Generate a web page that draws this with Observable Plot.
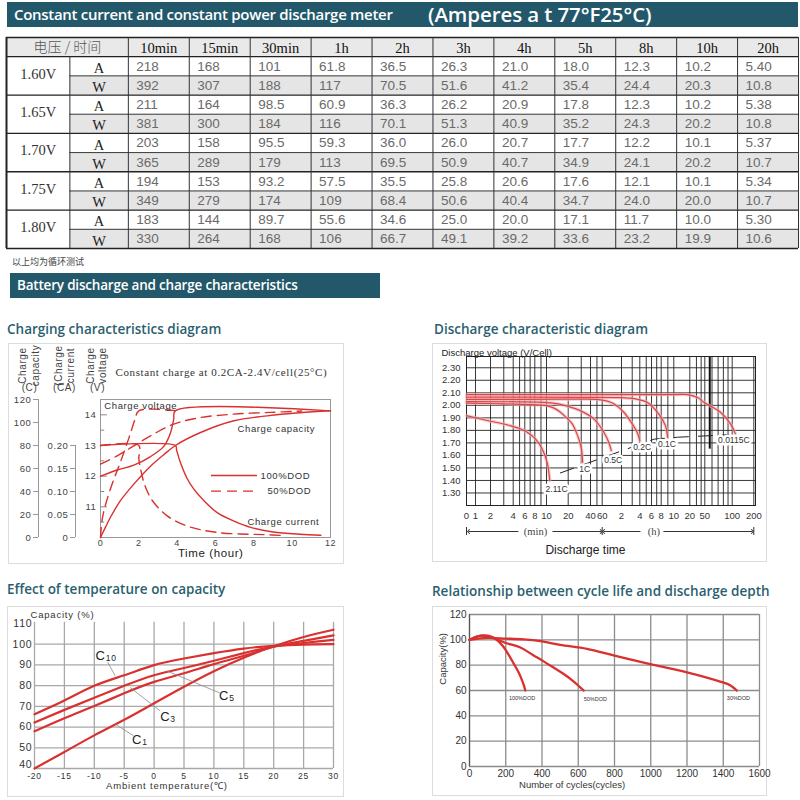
<!DOCTYPE html>
<html><head><meta charset="utf-8">
<script src="https://cdn.jsdelivr.net/npm/d3@7"></script>
<script src="https://cdn.jsdelivr.net/npm/@observablehq/plot@0.6"></script>
<style>
body{margin:0;background:#fff;}
#page{position:relative;width:800px;height:800px;overflow:hidden;font-family:"Liberation Sans",Arial,sans-serif;background:#fff;}
.bar{position:absolute;background:#23586b;color:#fff;font-family:"Open Sans",sans-serif;font-weight:600;white-space:nowrap;box-sizing:border-box;}
.h2{position:absolute;color:#2b5f70;font-family:"Open Sans",sans-serif;font-weight:600;font-size:13.5px;white-space:nowrap;line-height:1;}
.box{position:absolute;border:1px solid #dcdcdc;box-sizing:border-box;}
.chart{position:absolute;}
.chart svg{overflow:visible;}
</style></head>
<body><div id="page">
<div class="bar" style="left:7px;top:2px;width:791px;height:25px;">
  <span style="position:absolute;left:7px;top:2px;font-size:15px;letter-spacing:-0.3px;">Constant current and constant power discharge meter</span>
  <span style="position:absolute;left:421px;top:-2px;font-size:20.5px;letter-spacing:-0.1px;">(Amperes a t 77°F25°C)</span>
</div>
<div class="chart" id="table" style="left:0;top:0;"></div>
<div style="position:absolute;left:12px;top:255px;font-size:9px;color:#444;font-family:'Noto Sans CJK SC',sans-serif;">以上均为循环测试</div>
<div class="bar" style="left:10px;top:273px;width:370px;height:25px;">
  <span style="position:absolute;left:7px;top:3px;font-size:13.5px;letter-spacing:-0.2px;">Battery discharge and charge characteristics</span>
</div>
<div class="h2" style="left:7px;top:323px;">Charging characteristics diagram</div>
<div class="h2" style="left:434px;top:323px;">Discharge characteristic diagram</div>
<div class="h2" style="left:7px;top:583px;">Effect of temperature on capacity</div>
<div class="h2" style="left:432px;top:585px;">Relationship between cycle life and discharge depth</div>
<div class="box" style="left:8px;top:343px;width:336px;height:221px;"></div>
<div class="box" style="left:432px;top:343px;width:335px;height:219px;"></div>
<div class="box" style="left:7px;top:606px;width:337px;height:191px;"></div>
<div class="box" style="left:432px;top:606px;width:335px;height:190px;"></div>
<div class="chart" id="c1" style="left:8px;top:344px;"></div>
<div class="chart" id="c2" style="left:432px;top:343px;"></div>
<div class="chart" id="c3" style="left:7px;top:606px;"></div>
<div class="chart" id="c4" style="left:432px;top:606px;"></div>
</div>
<script>
// ---------------- DATA ----------------
const times = ["10min","15min","30min","1h","2h","3h","4h","5h","8h","10h","20h"];
const voltages = ["1.60V","1.65V","1.70V","1.75V","1.80V"];
const amps = [
  [218,168,101,61.8,36.5,26.3,21.0,18.0,12.3,10.2,5.40],
  [211,164,98.5,60.9,36.3,26.2,20.9,17.8,12.3,10.2,5.38],
  [203,158,95.5,59.3,36.0,26.0,20.7,17.7,12.2,10.1,5.37],
  [194,153,93.2,57.5,35.5,25.8,20.6,17.6,12.1,10.1,5.34],
  [183,144,89.7,55.6,34.6,25.0,20.0,17.1,11.7,10.0,5.30]];
const watts = [
  [392,307,188,117,70.5,51.6,41.2,35.4,24.4,20.3,10.8],
  [381,300,184,116,70.1,51.3,40.9,35.2,24.3,20.2,10.8],
  [365,289,179,113,69.5,50.9,40.7,34.9,24.1,20.2,10.7],
  [349,279,174,109,68.4,50.6,40.4,34.7,24.0,20.0,10.7],
  [330,264,168,106,66.7,49.1,39.2,33.6,23.2,19.9,10.6]];
const units = ["A","W"];

// Charging characteristics (hours, value)
const hourTicks1 = [0,2,4,6,8,10,12];
const capTicks1 = [0,20,40,60,80,100,120];
const curTicks1 = [0,0.05,0.10,0.15,0.20];
const voltTicks1 = [11,12,13,14];
const voltMinor1 = [10.5,11.5,12.5,13.5];
const voltage100 = [[0,12.0],[0.87,12.2],[1.74,12.36],[2.61,12.64],[3.3,12.97],[3.65,13.41],[3.82,13.86],[3.9,14.13],[12,14.13]];
const voltage50 = [[0,10.0],[0.09,10.6],[0.26,11.06],[0.61,11.75],[1.04,12.46],[1.48,13.24],[1.8,13.85],[2.0,14.13],[4,14.13]];
const capacity100 = [[0,0],[0.26,9],[0.52,17.6],[1.04,32],[1.74,46.4],[2.61,62],[3.3,72],[3.91,80],[5.22,91.3],[6.96,101.5],[8.7,105.8],[10.4,108.5],[12,110.2]];
const capacity50 = [[0,63.8],[0.87,71],[1.74,79.7],[2.61,88.4],[3.82,98.6],[5.22,104.3],[6.96,107.3],[8.87,108.8],[10.5,110]];
const current100 = [[0,0.2],[3.91,0.2],[3.97,0.19],[4.17,0.163],[4.5,0.13],[4.87,0.105],[5.4,0.08],[6.09,0.054],[7,0.035],[7.83,0.022],[9,0.012],[10.4,0.007],[11.5,0.005]];
const current50 = [[0,0.2],[2,0.2],[2,0.172],[2.09,0.149],[2.26,0.12],[2.5,0.095],[2.78,0.076],[3.48,0.047],[4.52,0.025],[6.09,0.011],[8.7,0.006],[9.6,0.004]];

// Discharge characteristics (minutes, V/cell)
const dischargeRates = ["2.11C","1C","0.5C","0.2C","0.1C","0.0115C"];
const dischargeCurves = [
  [[0.75,1.918],[1.72,1.879],[3.33,1.844],[5,1.815],[6.43,1.785],[8.1,1.732],[9.21,1.652],[10.2,1.545],[11.1,1.40]],
  [[0.75,2.017],[3,2.012],[7,2.005],[10,1.998],[12.5,1.98],[15.6,1.945],[19,1.9],[22.7,1.852],[25.5,1.79],[27.8,1.732],[30.2,1.652],[31.3,1.545]],
  [[0.75,2.03],[10,2.022],[15,2.01],[19,1.995],[29,1.958],[45,1.892],[63.5,1.785],[76,1.705],[83,1.638]],
  [[0.75,2.047],[20,2.049],[50,2.048],[70,2.035],[91,2.012],[131,1.945],[180,1.852],[217,1.785],[240,1.718]],
  [[0.75,2.065],[100,2.062],[168,2.057],[230,2.045],[309,2.025],[445,1.932],[517,1.838],[537,1.745]],
  [[0.75,2.086],[600,2.086],[1072,2.086],[2000,2.06],[2822,2.025],[4463,1.945],[5749,1.852],[6658,1.772]]];
const rateLabelPos = [[13.8,1.326],[33.5,1.486],[89,1.564],[260,1.665],[532,1.686],[6314,1.718]];
const cutoffLine = [[15.6,1.46],[390,1.73],[700,1.745],[5500,1.765]];
const voltTicks2 = [1.3,1.4,1.5,1.6,1.7,1.8,1.9,2.0,2.1,2.2,2.3];
const minTickVals = [0.75,1,2,4,6,8,10,20,40,60];
const minTickText = ["0","1","2","4","6","8","10","20","40","60"];
const hourTickVals = [2,4,6,8,10,20,50,100,200];
const gridMinutes = [1,2,3,4,5,6,7,8,9,10,20,30,40,50,60];
const gridHours = [2,3,4,5,6,7,8,9,10,20,30,40,50,60,70,80,90,100,200];

// Temperature effect (°C, %)
const tempTicks = [-20,-15,-10,-5,0,5,10,15,20,25,30];
const capTicks3 = [40,50,60,70,80,90,100,110];
const tempCurves = {
  C1:  [[-20,40],[-15,48],[-10,56],[-5,63.5],[0,71.5],[5,79.5],[10,87],[15,93.5],[20,99],[25,103.5],[30,107]],
  C3:  [[-20,58],[-15,64.3],[-10,70.2],[-5,76.3],[0,81.8],[5,86],[10,90.4],[15,94.4],[20,98.8],[25,101.6],[30,104.3]],
  C5:  [[-20,62.2],[-15,68.3],[-10,74.2],[-5,79.9],[0,85],[5,88.5],[10,92],[15,95.7],[20,98.8],[25,100.6],[30,102.1]],
  C10: [[-20,66.2],[-15,72.8],[-10,79.9],[-5,85],[0,89.9],[5,93.1],[10,95.7],[15,97.9],[20,99.2],[25,99.8],[30,100]]};
const tempLabels = [{sub:"10",x:-8.93,y:94.4},{sub:"3",x:1.86,y:64.9},{sub:"5",x:11.72,y:75.1},{sub:"1",x:-2.83,y:53.8}];
const tempLeaders = [{x1:-7.79,y1:91.5,x2:-6.5,y2:84.7},{x1:1.02,y1:67.8,x2:-4.0,y2:79.1},{x1:11.05,y1:76.4,x2:2.14,y2:87.1},{x1:-3.44,y1:55.8,x2:-6.5,y2:61.4}];

// Cycle life (cycles, %)
const cycleTicks = [0,200,400,600,800,1000,1200,1400,1600];
const capTicks4 = [0,20,40,60,80,100,120];
const dodNames = ["100%DOD","50%DOD","30%DOD"];
const dodCurves = [
  [[0,100],[40,102.5],[80,103.5],[120,102.5],[150,100],[185,95],[217,88],[245,81],[272,74],[290,68],[300,64],[308,60]],
  [[0,100],[50,103],[90,103],[134,101.3],[200,97.5],[281,94],[350,88],[409,83],[470,77.5],[520,73],[580,66.5],[630,60]],
  [[0,100],[100,101.5],[200,101],[300,100.3],[391,98.9],[500,96],[648,92.9],[800,87.5],[1015,80.2],[1200,74.3],[1383,67],[1440,64],[1475,60]]];
const dodLabelPos = [[290,53.9],[694,53.4],[1484,53.9]];

// ---------------- DRAW ----------------
const RED = "#d8312f";
const SERIF = "Liberation Serif, Times New Roman, serif";
const SANS = "Liberation Sans, Arial, sans-serif";
const NARROW = "Liberation Sans Narrow, Arial Narrow, sans-serif";
const UNIT_COL = 1.04;

// Table
const fmt = d3.format(".3r");
const cells = [];
voltages.forEach((v, i) => times.forEach((t, j) => {
  cells.push({row: 1 + 2*i, col: j, text: fmt(amps[i][j])});
  cells.push({row: 2 + 2*i, col: j, text: fmt(watts[i][j])});
}));
const unitRows = [];
voltages.forEach((v, i) => units.forEach((u, k) => unitRows.push({row: 1 + 2*i + k, u})));
const tableSvg = Plot.plot({
  width: 800, height: 252, margin: 0,
  x: {domain: [0, 13], range: [6, 798], axis: null},
  y: {domain: [0, 11], range: [37, 248], axis: null},
  style: {background: "none", overflow: "visible"},
  marks: [
    Plot.rect([0], {x1: 0, x2: 13, y1: 0, y2: 1, fill: "#e9e9e9"}),
    Plot.rect(voltages, {x1: UNIT_COL, x2: 13, y1: (d, i) => 2 + 2*i, y2: (d, i) => 3 + 2*i, fill: "#e5e5e5"}),
    Plot.ruleY([2,4,6,8,10], {x1: UNIT_COL, x2: 13, stroke: "#3a3a3a", strokeWidth: 1}),
    Plot.ruleY([0,1,3,5,7,9,11], {x1: 0, x2: 13, stroke: "#222", strokeWidth: 1.3}),
    Plot.ruleX(d3.range(2, 14), {y1: 0, y2: 11, stroke: "#333", strokeWidth: 1}),
    Plot.ruleX([UNIT_COL], {y1: 1, y2: 11, stroke: "#333", strokeWidth: 1}),
    Plot.ruleX([0], {y1: 0, y2: 11, stroke: "#222", strokeWidth: 2}),
    Plot.text(["电压 / 时间"], {x: 1.0, y: 0.5, fontSize: 14, fill: "#555", fontFamily: "Noto Sans CJK SC, sans-serif", fontWeight: 300}),
    Plot.text(times, {x: (d, i) => i + 2.5, y: 0.5, dy: 1, fontSize: 14.5, fill: "#111", fontFamily: SERIF}),
    Plot.text(voltages, {x: UNIT_COL / 2, y: (d, i) => 2 + 2*i, dy: -2, fontSize: 14.5, fill: "#333", fontFamily: SERIF}),
    Plot.text(unitRows, {x: 1 + UNIT_COL / 2 , y: d => d.row + 0.5, dy: 2, text: "u", fontSize: 14.5, fill: "#222", fontFamily: SERIF}),
    Plot.text(cells, {x: d => d.col + 2, y: d => d.row + 0.5, dx: 8, textAnchor: "start", text: "text", fontSize: 13.5, fill: "#6a6a6a", fontFamily: NARROW})
  ]
});
document.getElementById("table").appendChild(tableSvg);

// Chart 1: charging
const v2c = v => (v - 10) * 80 / 3;   // voltage axis units -> capacity axis units
const i2c = c => c * 400;             // current axis units -> capacity axis units
const line1 = (data, conv, dashed) => Plot.line(data, {x: d => d[0], y: d => conv(d[1]), stroke: RED, strokeWidth: 1.4, curve: "catmull-rom", strokeDasharray: dashed ? "10,6" : null});
const rot = (t, dx) => Plot.text([t], {frameAnchor: "top-left", dx, dy: -34, rotate: -90, textAnchor: "middle", lineAnchor: "middle", fontSize: 10, fill: "#444"});
const unitLbl = (t, dx) => Plot.text([t], {frameAnchor: "top-left", dx, dy: -12, textAnchor: "middle", lineAnchor: "middle", fontSize: 10, fill: "#444"});
const c1 = Plot.plot({
  width: 335, height: 219, marginLeft: 92, marginRight: 13, marginTop: 55, marginBottom: 26,
  x: {domain: [0, 12], axis: null},
  y: {domain: [0, 120], axis: null},
  style: {background: "none", color: "#333", fontFamily: SANS, letterSpacing: "0.6px", overflow: "visible"},
  marks: [
    Plot.frame({stroke: "#999"}),
    Plot.ruleX([0], {y1: 0, y2: 120, dx: -62, stroke: "#999"}),
    Plot.axisY(capTicks1, {anchor: "left", dx: -62, tickSize: 5, tickPadding: 2, fontSize: 9.5, stroke: "#999", fill: "#444", label: null}),
    Plot.ruleX([0], {y1: 0, y2: 80, dx: -25, stroke: "#999"}),
    Plot.axisY(curTicks1.map(i2c), {anchor: "left", dx: -25, tickSize: 5, tickPadding: 2, fontSize: 9.5, stroke: "#999", fill: "#444", label: null, tickFormat: d => d === 0 ? "0" : (d / 400).toFixed(2)}),
    Plot.axisY(voltTicks1.map(v2c), {anchor: "left", tickSize: 0, tickPadding: 4, fontSize: 9.5, fill: "#444", label: null, tickFormat: d => String(Math.round(d * 3 / 80 + 10))}),
    Plot.ruleY(voltTicks1.map(v2c), {x1: 0, x2: 0.36, stroke: "#888"}),
    Plot.ruleY(voltMinor1.map(v2c), {x1: 0, x2: 0.22, stroke: "#888"}),
    Plot.axisX(hourTicks1, {tickSize: 0, tickPadding: 2, fontSize: 9, fill: "#444", label: null}),
    Plot.text(["Time (hour)"], {x: 5.75, y: 0, dy: 16, fontSize: 11.5, fill: "#222"}),
    line1(capacity100, d => d, false),
    line1(capacity50, d => d, true),
    line1(voltage100, v2c, false),
    line1(voltage50, v2c, true),
    line1(current100, i2c, false),
    line1(current50, i2c, true),
    Plot.text(["Charge voltage"], {x: 0.2, y: 114.8, textAnchor: "start", fontSize: 9.5, fill: "#333"}),
    Plot.text(["Charge capacity"], {x: 7.15, y: 94.8, textAnchor: "start", fontSize: 9.5, fill: "#333"}),
    Plot.text(["Charge current"], {x: 7.67, y: 13.9, textAnchor: "start", fontSize: 9.5, fill: "#333"}),
    Plot.ruleY([53.9], {x1: 5.79, x2: 8.19, stroke: RED, strokeWidth: 1.4}),
    Plot.ruleY([40.3], {x1: 5.79, x2: 8.19, stroke: RED, strokeWidth: 1.4, strokeDasharray: "10,6"}),
    Plot.text(["100%DOD"], {x: 8.35, y: 53.9, textAnchor: "start", fontSize: 9.5, fill: "#333"}),
    Plot.text(["50%DOD"], {x: 8.71, y: 40.3, textAnchor: "start", fontSize: 9.5, fill: "#333"}),
    Plot.text(["Constant charge at 0.2CA-2.4V/cell(25°C)"], {frameAnchor: "top-left", dx: 15, dy: -27, textAnchor: "start", lineAnchor: "middle", fontSize: 11, fontFamily: SERIF, fill: "#333", letterSpacing: "0.2px"}),
    rot("Charge", -78), rot("capacity", -65), unitLbl("(C)", -71),
    rot("(Charge", -42), rot("current", -30), unitLbl("(CA)", -36),
    rot("Charge", -10), rot("voltage", 2), unitLbl("(V)", -3)
  ]
});
document.getElementById("c1").appendChild(c1);

// Chart 2: discharge
const xKnots = [0.75,1,2,4,6,8,10,20,40,60,120,240,360,480,600,1200,3000,6000,12000];
const xKnotPos = [34,43,58,80.7,92.3,102.3,114,135.7,158,169.7,189,207.3,219,228.7,241.3,257.3,272.3,299.7,321.3];
const c2 = Plot.plot({
  width: 335, height: 218, marginLeft: 34, marginRight: 12, marginTop: 13, marginBottom: 56,
  x: {type: "log", domain: xKnots, range: xKnotPos, axis: null},
  y: {domain: [1.2, 2.39], axis: null},
  style: {background: "none", color: "#333", fontFamily: SANS, overflow: "visible"},
  marks: [
    Plot.ruleY(voltTicks2, {stroke: "#222", strokeWidth: 0.9}),
    Plot.ruleX(gridMinutes, {stroke: "#222", strokeWidth: 0.9}),
    Plot.ruleX(gridHours.map(h => h * 60), {stroke: "#222", strokeWidth: 0.9}),
    Plot.ruleX([3400], {y1: 1.65, y2: 2.39, stroke: "#111", strokeWidth: 2}),
    Plot.frame({stroke: "#222"}),
    ...dischargeCurves.map(c => Plot.line(c, {stroke: "#f3b3b3", strokeWidth: 3.5, curve: "catmull-rom", strokeOpacity: 0.6})),
    ...dischargeCurves.map(c => Plot.line(c, {stroke: "#d9454a", strokeWidth: 1.2, curve: "catmull-rom"})),
    Plot.line(cutoffLine, {stroke: "#222", strokeWidth: 1, strokeDasharray: "14,10"}),
    Plot.text(dischargeRates, {x: (d, i) => rateLabelPos[i][0], y: (d, i) => rateLabelPos[i][1], fontSize: 8.5, fill: "#333", stroke: "white", strokeWidth: 5}),
    Plot.axisY(voltTicks2, {anchor: "left", tickSize: 0, tickPadding: 6, fontSize: 9.5, fill: "#333", label: null, tickFormat: d3.format(".2f")}),
    Plot.text(minTickText, {x: (d, i) => minTickVals[i], y: 1.2, dy: 10, fontSize: 9.5, fill: "#333"}),
    Plot.text(hourTickVals, {x: d => d * 60, y: 1.2, dy: 10, fontSize: 9.5, fill: "#333", text: d => String(d)}),
    Plot.text(["Discharge voltage (V/Cell)"], {frameAnchor: "top-left", dx: -25, dy: -1, textAnchor: "start", lineAnchor: "bottom", fontSize: 9.5, fill: "#222"}),
    Plot.ruleX([0.75, 60, 12000], {y1: 1.2, y2: 1.2, dy: 26, insetTop: -4, insetBottom: -4, stroke: "#333"}),
    Plot.link([[4.8, 0.8], [12.1, 58], [246, 63], [499, 11500]], {x1: d => d[0], x2: d => d[1], y1: 1.2, y2: 1.2, dy: 26, stroke: "#333", markerEnd: "arrow"}),
    Plot.text(["(min)"], {x: 8.1, y: 1.2, dy: 26, fontSize: 10.5, fontFamily: SERIF, fill: "#444", letterSpacing: "1.5px"}),
    Plot.text(["(h)"], {x: 385, y: 1.2, dy: 26, fontSize: 10.5, fontFamily: SERIF, fill: "#444", letterSpacing: "1.5px"}),
    Plot.text(["Discharge time"], {x: 34.2, y: 1.2, dy: 45, fontSize: 12, fill: "#222"})
  ]
});
document.getElementById("c2").appendChild(c2);

// Chart 3: temperature
const c3 = Plot.plot({
  width: 337, height: 191, marginLeft: 27, marginRight: 11, marginTop: 17, marginBottom: 29,
  x: {domain: [-20, 30], axis: null},
  y: {domain: [40, 110], axis: null},
  style: {background: "none", color: "#333", fontFamily: SANS, overflow: "visible"},
  marks: [
    Plot.ruleX(tempTicks, {y1: 40, y2: 110.6, stroke: "#a8a8a8", strokeWidth: 1.3}),
    Plot.ruleY(capTicks3.filter(d => d < 110), {stroke: "#a8a8a8", strokeWidth: 1.3}),
    ...Object.values(tempCurves).map(c => Plot.line(c, {stroke: RED, strokeWidth: 2.2, curve: "natural"})),
    Plot.link(tempLeaders, {x1: "x1", y1: "y1", x2: "x2", y2: "y2", stroke: "#8a8a8a", strokeWidth: 0.8}),
    Plot.text(tempLabels, {x: "x", y: "y", text: () => "C", fontSize: 13, fill: "#222"}),
    Plot.text(tempLabels, {x: "x", y: "y", text: "sub", dx: 5, dy: 2, textAnchor: "start", fontSize: 8.5, fill: "#222"}),
    Plot.axisY(capTicks3.filter(d => d > 40), {anchor: "left", tickSize: 0, tickPadding: 2, fontSize: 10.5, fill: "#333", label: null}),
    Plot.axisY(capTicks3.filter(d => d === 40), {anchor: "left", tickSize: 0, tickPadding: 2, fontSize: 10.5, fill: "#333", label: null, dy: -4}),
    Plot.axisX(tempTicks, {tickSize: 0, tickPadding: 4, fontSize: 8.5, fill: "#333", label: null, tickFormat: d => String(d)}),
    Plot.text(["Ambient temperature(℃)"], {x: 2.14, y: 40, dy: 17, fontSize: 9.5, fill: "#333"}),
    Plot.text(["Capacity (%)"], {frameAnchor: "top-left", dx: -4, dy: -9, textAnchor: "start", lineAnchor: "middle", fontSize: 9.5, fill: "#333"})
  ]
});
c3.querySelectorAll("text").forEach(t => t.setAttribute("letter-spacing", "0.8"));
document.getElementById("c3").appendChild(c3);

// Chart 4: cycle life
const c4 = Plot.plot({
  width: 335, height: 190, marginLeft: 37, marginRight: 8, marginTop: 8, marginBottom: 30,
  x: {domain: [0, 1600], axis: null},
  y: {domain: [0, 120], axis: null},
  style: {background: "none", color: "#333", fontFamily: SANS, overflow: "visible"},
  marks: [
    Plot.ruleX(cycleTicks, {stroke: "#8c8c8c", strokeWidth: 1.3}),
    Plot.ruleY(capTicks4, {stroke: "#8c8c8c", strokeWidth: 1.3}),
    Plot.ruleX([0], {stroke: "#555", strokeWidth: 1.2}),
    ...dodCurves.map(c => Plot.line(c, {stroke: RED, strokeWidth: 2.3, curve: "catmull-rom"})),
    Plot.text(dodNames, {x: (d, i) => dodLabelPos[i][0], y: (d, i) => dodLabelPos[i][1], fontSize: 5.5, fill: "#333"}),
    Plot.axisY(capTicks4, {anchor: "left", tickSize: 0, tickPadding: 3, fontSize: 10, fill: "#333", label: null}),
    Plot.axisX(cycleTicks, {tickSize: 0, tickPadding: 3, fontSize: 10, fill: "#333", label: null, tickFormat: d => String(d)}),
    Plot.text(["Number of cycles(cycles)"], {x: 566, y: 0, dy: 18, fontSize: 9.5, fill: "#333"}),
    Plot.text(["Capacity(%)"], {x: 0, y: 85, dx: -27, rotate: -90, fontSize: 9.5, fill: "#333"})
  ]
});
document.getElementById("c4").appendChild(c4);
</script>
</body></html>
